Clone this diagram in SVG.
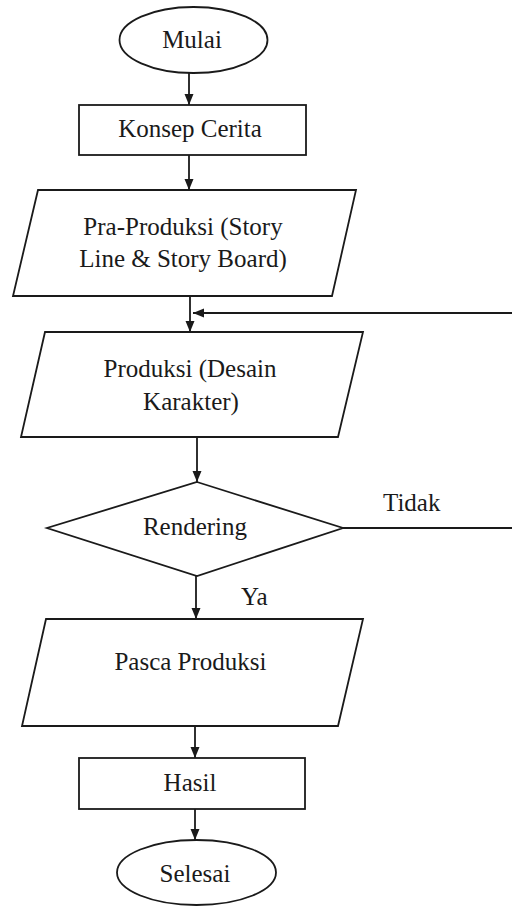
<svg xmlns="http://www.w3.org/2000/svg" width="512" height="907" viewBox="0 0 512 907">
<style>
.s{fill:#fff;stroke:#1a1a1a;stroke-width:1.8}
.c{fill:none;stroke:#1a1a1a;stroke-width:1.8}
text{font-family:'Liberation Serif','DejaVu Serif',serif;font-size:25px;fill:#1a1a1a;text-anchor:middle}
.l{text-anchor:start}
</style>
<defs>
<marker id="ah" markerUnits="userSpaceOnUse" markerWidth="12" markerHeight="12" viewBox="0 0 12 12" refX="11" refY="6" orient="auto">
<path d="M0,1.5 L11,6 L0,10.5 Z" fill="#1a1a1a"/>
</marker>
</defs>
<rect width="512" height="907" fill="#fff"/>
<g id="connectors">
<line class="c" x1="189" y1="73" x2="189" y2="105" marker-end="url(#ah)"/>
<line class="c" x1="189" y1="155" x2="189" y2="190" marker-end="url(#ah)"/>
<line class="c" x1="190" y1="296" x2="190" y2="332" marker-end="url(#ah)"/>
<polyline class="c" points="343,528 514,528 514,313 193,313" marker-end="url(#ah)"/>
<line class="c" x1="197" y1="437" x2="197" y2="482" marker-end="url(#ah)"/>
<line class="c" x1="196" y1="576" x2="196" y2="619" marker-end="url(#ah)"/>
<line class="c" x1="195" y1="726" x2="195" y2="758" marker-end="url(#ah)"/>
<line class="c" x1="195" y1="809" x2="195" y2="840" marker-end="url(#ah)"/>
<text class="l" x="383" y="511">Tidak</text>
<text class="l" x="241" y="605">Ya</text>
</g>
<g id="mulai">
<ellipse class="s" cx="193.5" cy="40" rx="74" ry="33"/>
<text x="192" y="48">Mulai</text>
</g>
<g id="konsep">
<rect class="s" x="79" y="105" width="227" height="50"/>
<text x="190" y="137">Konsep Cerita</text>
</g>
<g id="praproduksi">
<polygon class="s" points="38,190 356,190 332,296 13,296"/>
<text x="183" y="235">Pra-Produksi (Story</text>
<text x="183" y="267">Line &amp; Story Board)</text>
</g>
<g id="produksi">
<polygon class="s" points="45,332 363,332 338,437 21,437"/>
<text x="190" y="377">Produksi (Desain</text>
<text x="191" y="410">Karakter)</text>
</g>
<g id="rendering">
<polygon class="s" points="197,482 343,528 197,576 47,528"/>
<text x="195" y="535">Rendering</text>
</g>
<g id="pasca">
<polygon class="s" points="46,619 363,619 338,726 22,726"/>
<text x="190.5" y="670">Pasca Produksi</text>
</g>
<g id="hasil">
<rect class="s" x="79" y="758" width="226" height="51"/>
<text x="190" y="791">Hasil</text>
</g>
<g id="selesai">
<ellipse class="s" cx="196.5" cy="872.5" rx="79.5" ry="32.5"/>
<text x="195" y="882">Selesai</text>
</g>
</svg>
